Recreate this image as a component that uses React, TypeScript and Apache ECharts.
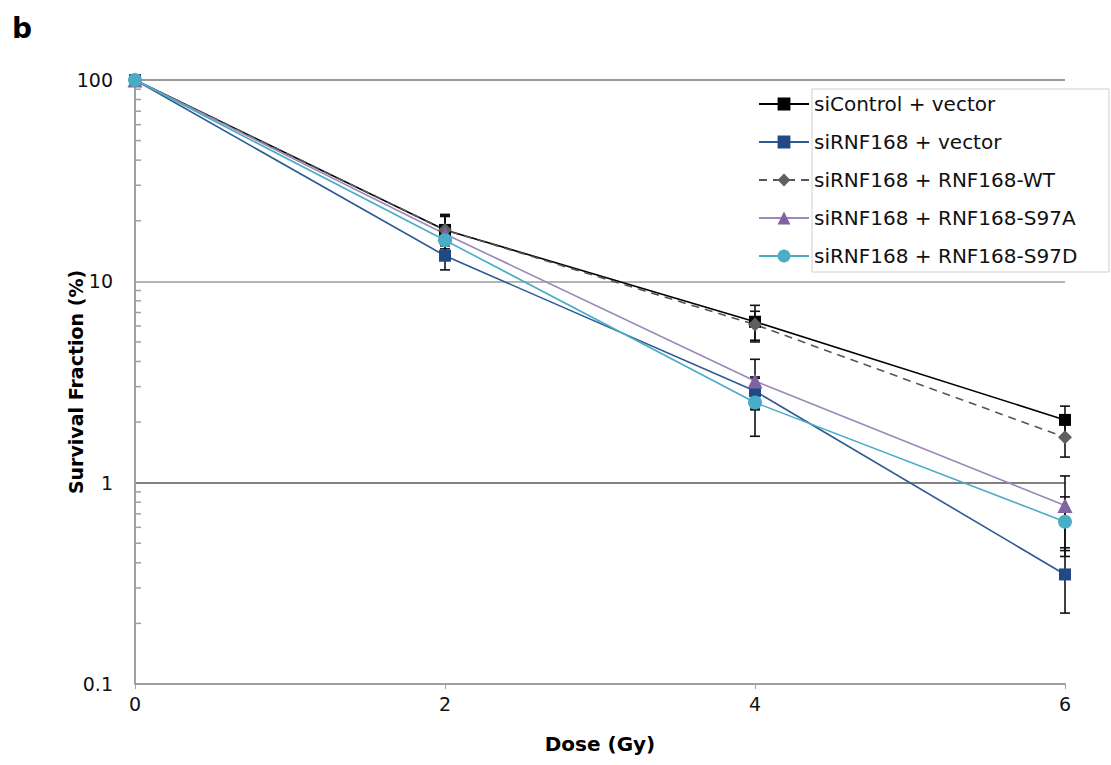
import React, { useEffect, useRef } from "react";
import * as echarts from "echarts";

const doses = [0, 2, 4, 6];
const yTickLabels = ["0.1", "1", "10", "100"];
const seriesNames = [
  "siControl + vector",
  "siRNF168 + vector",
  "siRNF168 + RNF168-WT",
  "siRNF168 + RNF168-S97A",
  "siRNF168 + RNF168-S97D",
];
const siControlVector = [100, 18, 6.3, 2.05];
const siControlVectorErr = [0, 3.5, 1.3, 0.35];
const siRNFVector = [100, 13.4, 2.85, 0.35];
const siRNFVectorErr = [0, 2.0, 0.5, 0.125];
const siRNFWT = [100, 18, 6.1, 1.68];
const siRNFWTErr = [0, 3.0, 1.0, 0.34];
const siRNFS97A = [100, 17.2, 3.2, 0.77];
const siRNFS97AErr = [0, 4.0, 0.9, 0.31];
const siRNFS97D = [100, 16, 2.5, 0.64];
const siRNFS97DErr = [0, 3.0, 0.8, 0.21];
const minorTickValues = [
  0.2, 0.3, 0.4, 0.5, 0.6, 0.7, 0.8, 0.9,
  2, 3, 4, 5, 6, 7, 8, 9,
  20, 30, 40, 50, 60, 70, 80, 90,
];

const FONT = "DejaVu Sans";

export default function App() {
  const ref = useRef<HTMLDivElement>(null);
  useEffect(() => {
    if (!ref.current) return;
    const chart = echarts.init(ref.current, null, { renderer: "svg" });

    const values = [siControlVector, siRNFVector, siRNFWT, siRNFS97A, siRNFS97D];
    const errs = [siControlVectorErr, siRNFVectorErr, siRNFWTErr, siRNFS97AErr, siRNFS97DErr];
    const errData: number[][] = [];
    values.forEach((vals, si) => {
      vals.forEach((v, i) => {
        const e = errs[si][i];
        if (e > 0) errData.push([doses[i], v - e, v + e]);
      });
    });

    const styles = [
      { color: "#000000", line: "#000000", symbol: "rect", size: 12, type: "solid" },
      { color: "#1f4a85", line: "#2c5a94", symbol: "rect", size: 12, type: "solid" },
      { color: "#5f5f5f", line: "#555555", symbol: "diamond", size: 14, type: "dashed" },
      { color: "#8064a2", line: "#9c88b8", symbol: "triangle", size: 15, type: "solid" },
      { color: "#4bacc6", line: "#4bacc6", symbol: "circle", size: 14, type: "solid" },
    ];

    const lineSeries = seriesNames.map((name, si) => ({
      name,
      type: "line",
      data: doses.map((d, i) => [d, values[si][i]]),
      symbol: styles[si].symbol,
      symbolSize: styles[si].size,
      showSymbol: true,
      clip: false,
      z: 5,
      itemStyle: { color: styles[si].color },
      lineStyle: {
        color: styles[si].line,
        width: 1.6,
        type: styles[si].type === "dashed" ? [8, 6] : "solid",
      },
    }));

    chart.setOption({
      animation: false,
      grid: { left: 135, right: 46, top: 80, bottom: 81, containLabel: false },
      graphic: [
        {
          type: "text",
          left: 12,
          top: 14,
          style: { text: "b", font: `bold 28px ${FONT}`, fill: "#000" },
        },
        {
          type: "rect",
          shape: { x: 812, y: 89, width: 297, height: 183 },
          style: { fill: "rgba(255,255,255,0.85)", stroke: "#cfcfcf", lineWidth: 1 },
          z: 50,
        },
      ],
      legend: {
        show: true,
        orient: "vertical",
        left: 758,
        top: 94,
        itemWidth: 50,
        itemHeight: 16,
        itemGap: 18,
        z: 60,
        data: seriesNames,
        textStyle: { fontFamily: FONT, fontSize: 20, color: "#111" },
        padding: 0,
      },
      xAxis: {
        type: "value",
        min: 0,
        max: 6,
        interval: 2,
        name: "Dose (Gy)",
        nameLocation: "middle",
        nameGap: 50,
        nameMoveOverlap: false,
        nameTextStyle: { fontFamily: FONT, fontSize: 20, fontWeight: "bold", color: "#000" },
        axisLine: { show: true, lineStyle: { color: "#a0a0a0", width: 2 } },
        axisTick: { show: true, length: 5, lineStyle: { color: "#a0a0a0" } },
        axisLabel: { fontFamily: FONT, fontSize: 19, color: "#111", margin: 10 },
        splitLine: { show: false },
      },
      yAxis: {
        type: "log",
        logBase: 10,
        min: 0.1,
        max: 100,
        name: "Survival Fraction (%)",
        nameLocation: "middle",
        nameGap: 50,
        nameMoveOverlap: false,
        nameTextStyle: { fontFamily: FONT, fontSize: 19, fontWeight: "bold", color: "#000" },
        axisLine: { show: true, lineStyle: { color: "#a0a0a0", width: 2 } },
        axisTick: { show: false },
        axisLabel: {
          fontFamily: FONT,
          fontSize: 19,
          color: "#111",
          margin: 22,
          formatter: (v: number) => {
            const s = String(Number(v.toPrecision(3)));
            return yTickLabels.includes(s) ? s : "";
          },
        },
        splitLine: {
          show: true,
          lineStyle: { color: ["#a0a0a0", "#808080", "#b4b4b4", "#999999"], width: 2 },
        },
      },
      series: [
        {
          type: "custom",
          silent: true,
          z: 2,
          data: minorTickValues.map((v) => [0, v]),
          encode: { x: 0, y: 1 },
          clip: false,
          renderItem: (_p: any, api: any) => {
            const p = api.coord([api.value(0), api.value(1)]);
            return {
              type: "line",
              shape: { x1: p[0], y1: p[1], x2: p[0] + 6, y2: p[1] },
              style: { stroke: "#a0a0a0", lineWidth: 1.5 },
            };
          },
        },
        {
          type: "custom",
          silent: true,
          z: 3,
          data: errData,
          encode: { x: 0, y: [1, 2] },
          clip: false,
          renderItem: (_p: any, api: any) => {
            const x = api.value(0);
            const lo = api.coord([x, api.value(1)]);
            const hi = api.coord([x, api.value(2)]);
            const w = 5;
            const st = { stroke: "#111", lineWidth: 1.6 };
            return {
              type: "group",
              children: [
                { type: "line", shape: { x1: lo[0], y1: lo[1], x2: hi[0], y2: hi[1] }, style: st },
                { type: "line", shape: { x1: lo[0] - w, y1: lo[1], x2: lo[0] + w, y2: lo[1] }, style: st },
                { type: "line", shape: { x1: hi[0] - w, y1: hi[1], x2: hi[0] + w, y2: hi[1] }, style: st },
              ],
            };
          },
        },
        ...lineSeries,
      ],
    });
    return () => chart.dispose();
  }, []);
  return (
    <div
      ref={ref}
      style={{ position: "fixed", left: 0, top: 0, width: 1111, height: 765, background: "#fff" }}
    />
  );
}
